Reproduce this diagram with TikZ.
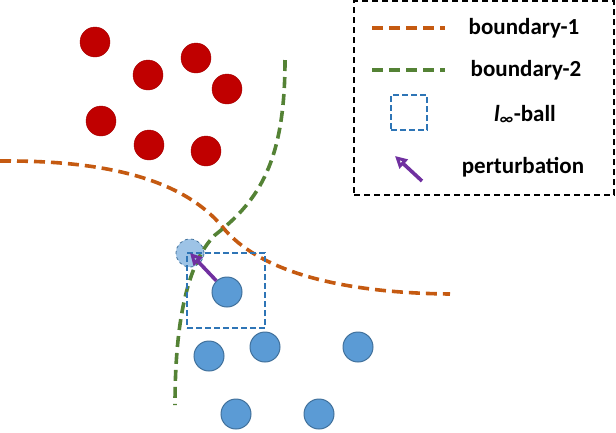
\documentclass[tikz,border=0pt]{standalone}
\usepackage{fontspec}
\setmainfont{Carlito}
\usetikzlibrary{arrows.meta}
\definecolor{redc}{HTML}{C00000}
\definecolor{bluec}{HTML}{5B9BD5}
\definecolor{bluee}{HTML}{41719C}
\definecolor{lightb}{HTML}{9DC3E6}
\definecolor{orangec}{HTML}{C55A11}
\definecolor{greenc}{HTML}{548235}
\definecolor{purp}{HTML}{7030A0}
\definecolor{sqb}{HTML}{2E75B6}
\tikzset{
 redpt/.style={circle,fill=redc,draw=redc!85!black,minimum size=30pt,inner sep=0},
 bluept/.style={circle,fill=bluec,draw=bluee,line width=1pt,minimum size=30pt,inner sep=0},
 advpt/.style={circle,fill=lightb,draw=bluee,dashed,line width=0.8pt,minimum size=28pt,inner sep=0},
 b1/.style={orangec,line width=3.6pt,dash pattern=on 11pt off 6pt},
 b2/.style={greenc,line width=3.6pt,dash pattern=on 11pt off 6pt},
 ballsq/.style={sqb,line width=2pt,dash pattern=on 6pt off 3pt},
 pert/.style={purp,line width=3.6pt,-{Stealth[length=12pt,width=12pt,inset=0pt,open]}},
 lab/.style={font=\fontsize{23}{26}\selectfont\bfseries,anchor=center}
}
\begin{document}
\begin{tikzpicture}[x=1pt,y=-1pt]
\useasboundingbox (0,0) rectangle (616,432);
\foreach \p/\q [count=\i] in {95/42,148/75,196/58,227/89,101/121,149/145,206/151}
  \node[redpt] (r\i) at (\p,\q) {};
\foreach \p/\q [count=\i] in {227/292,209/356,265/347,358/347,236/414,319/414}
  \node[bluept] (b\i) at (\p,\q) {};
\node[advpt] (adv) at (190,253) {};
\draw[b1] (0,161) .. controls (120,160) and (190,185) .. (225,230) .. controls (265,275) and (350,293) .. (450,294);
\draw[b2] (285,60) .. controls (285,160) and (260,200) .. (215,235) .. controls (185,265) and (175,330) .. (175,405);
\node[draw,ballsq,minimum width=78pt,minimum height=75pt,inner sep=0] (ball) at (226,290.5) {};
\draw[pert] (b1) -- (adv.center);
% legend
\node[draw,line width=1.6pt,dash pattern=on 6pt off 4pt,minimum width=260pt,minimum height=194pt,inner sep=0] (leg) at (484,98) {};
\coordinate (l1a) at (372,28); \coordinate (l1b) at (445,28);
\coordinate (l2a) at (372,70); \coordinate (l2b) at (445,70);
\draw[b1] (l1a) -- (l1b);
\draw[b2] (l2a) -- (l2b);
\node[draw,ballsq,minimum width=36pt,minimum height=35pt,inner sep=0] (lsq) at (409,112.5) {};
\coordinate (la) at (422,181); \coordinate (lb) at (395,156);
\draw[pert] (la) -- (lb);
\node[lab] (t1) at (524,28) {boundary-1};
\node[lab] (t2) at (526,70) {boundary-2};
\node[lab] (t3) at (525,115) {\textit{l}\textsubscript{\textit{∞}}-ball};
\node[lab] (t4) at (523,167) {perturbation};
\end{tikzpicture}
\end{document}
